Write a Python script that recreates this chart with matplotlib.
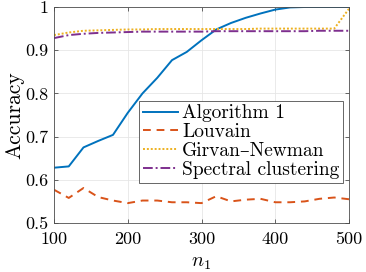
import matplotlib
matplotlib.use("Agg")
import matplotlib.pyplot as plt

plt.rcParams['font.family'] = ['cmr10', 'DejaVu Serif']
plt.rcParams['mathtext.fontset'] = 'cm'
plt.rcParams['axes.formatter.use_mathtext'] = True

n1 = [100, 120, 140, 160, 180, 200, 220, 240, 260, 280, 300,
      320, 340, 360, 380, 400, 420, 440, 460, 480, 500]
alg1 = [0.628, 0.631, 0.675, 0.690, 0.704, 0.755, 0.800, 0.836, 0.877, 0.896, 0.923,
        0.948, 0.963, 0.975, 0.985, 0.994, 0.999, 1.0, 1.0, 1.0, 1.0]
louvain = [0.577, 0.558, 0.581, 0.560, 0.552, 0.546, 0.552, 0.552, 0.548, 0.548, 0.546,
           0.562, 0.550, 0.554, 0.556, 0.548, 0.548, 0.550, 0.556, 0.559, 0.555]
girvan = [0.935, 0.941, 0.945, 0.946, 0.947, 0.948, 0.948, 0.949, 0.949, 0.949, 0.949,
          0.949, 0.949, 0.949, 0.950, 0.950, 0.950, 0.950, 0.950, 0.950, 0.996]
spectral = [0.928, 0.935, 0.938, 0.940, 0.941, 0.942, 0.943, 0.943, 0.943, 0.943, 0.943,
            0.944, 0.944, 0.944, 0.944, 0.944, 0.944, 0.944, 0.945, 0.945, 0.945]
labels = ['Algorithm 1', 'Louvain', 'Girvan\u2013Newman', 'Spectral clustering']
xticks = [100, 200, 300, 400, 500]
yticks = [0.5, 0.6, 0.7, 0.8, 0.9, 1.0]
yticklabels = ['0.5', '0.6', '0.7', '0.8', '0.9', '1']

fig = plt.figure(figsize=(3.66, 2.72), dpi=100)
ax = fig.add_axes([54/366, 1-223/272, 295/366, 216/272])

ax.plot(n1, alg1, color='#0072BD', lw=1.4, ls='-', label=labels[0])
ax.plot(n1, louvain, color='#D95319', lw=1.4, ls=(0, (4, 3)), label=labels[1])
ax.plot(n1, girvan, color='#EDB120', lw=1.4, ls=(0, (1, 1)), label=labels[2])
ax.plot(n1, spectral, color='#7E2F8E', lw=1.4, ls=(0, (5, 1.5, 1, 1.5)), label=labels[3])

ax.set_xlim(100, 500)
ax.set_ylim(0.5, 1.0)
ax.set_xticks(xticks)
ax.set_xticklabels([str(t) for t in xticks])
ax.set_yticks(yticks)
ax.set_yticklabels(yticklabels)
ax.tick_params(direction='in', top=True, right=True, labelsize=13, length=3,
               color='#4d4d4d', width=0.6)
ax.tick_params(axis='x', pad=6)
ax.tick_params(axis='y', pad=4)
for s in ax.spines.values():
    s.set_color('#4d4d4d')
    s.set_linewidth(0.6)
ax.grid(True, color='#e6e6e6', lw=0.6)
ax.set_axisbelow(True)
ax.set_xlabel(r'$n_1$', fontsize=14.5, labelpad=5)
ax.set_ylabel('Accuracy', fontsize=15.5, labelpad=1)

leg = ax.legend(loc='lower right', bbox_to_anchor=(0.98, 0.185), fontsize=14,
                frameon=True, fancybox=False, framealpha=1, edgecolor='#4d4d4d',
                handlelength=1.8, handletextpad=0.2, borderpad=0.2, labelspacing=0.05,
                borderaxespad=0)
leg.get_frame().set_linewidth(0.6)

fig.savefig('out.png', dpi=100)
